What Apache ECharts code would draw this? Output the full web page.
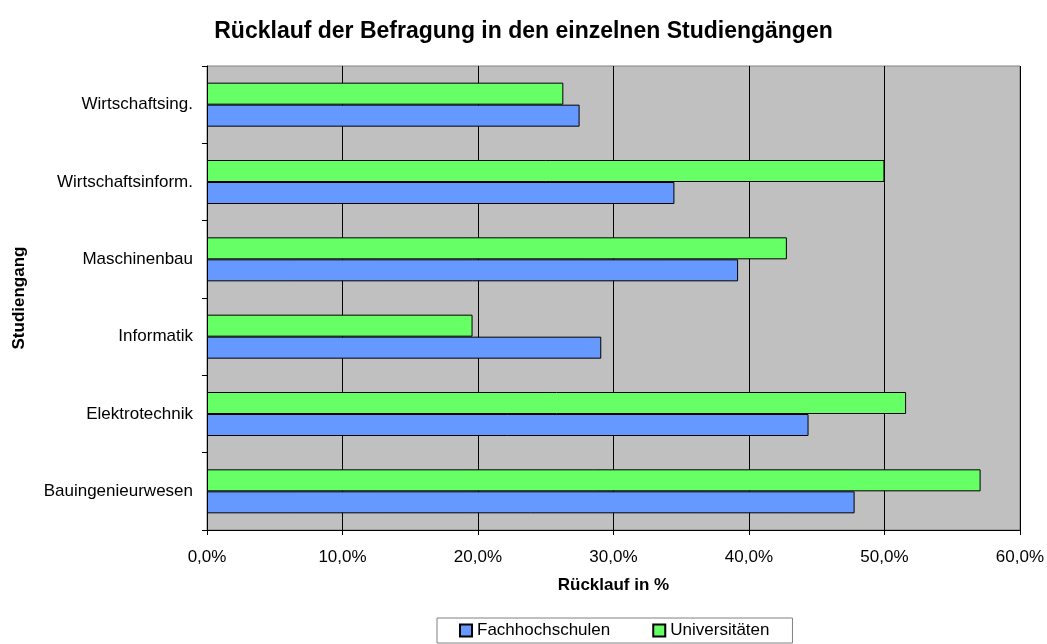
<!DOCTYPE html>
<html>
<head>
    <meta charset="utf-8">
    <script src="https://cdn.jsdelivr.net/npm/echarts@6/dist/echarts.min.js"></script>
    <title>Rücklauf</title>
    <style>
        html, body { margin: 0; padding: 0; background: #fff; }
        #chart { width: 1047px; height: 644px; }
    </style>
</head>
<body>
<div id="chart"></div>
<script>
    // Studiengänge, von unten nach oben
    var categories = ['Bauingenieurwesen', 'Elektrotechnik', 'Informatik', 'Maschinenbau', 'Wirtschaftsinform.', 'Wirtschaftsing.'];
    var fachhochschulen = [47.8, 44.4, 29.1, 39.2, 34.5, 27.5];
    var universitaeten = [57.1, 51.6, 19.6, 42.8, 50.0, 26.3];
    var xTicks = [0, 10, 20, 30, 40, 50, 60];

    var font = 'Arial, "Liberation Sans", sans-serif';

    function pct(v) {
        return v.toFixed(1).replace('.', ',') + '%';
    }

    var chart = echarts.init(document.getElementById('chart'));
    chart.setOption({
        animation: false,
        textStyle: { fontFamily: font },
        title: {
            text: 'Rücklauf der Befragung in den einzelnen Studiengängen',
            left: 'center',
            top: 15,
            textStyle: { fontSize: 23, fontWeight: 'bold', color: '#000', fontFamily: font }
        },
        legend: {
            bottom: 1,
            left: 437,
            padding: [4, 23, 4, 22],
            itemGap: 42,
            itemWidth: 12,
            itemHeight: 12,
            borderColor: '#808080',
            borderWidth: 1,
            icon: 'rect',
            textStyle: { fontSize: 17, color: '#000', fontFamily: font },
            data: ['Fachhochschulen', 'Universitäten']
        },
        grid: {
            left: 207,
            right: 27,
            top: 66,
            bottom: 114,
            show: true,
            backgroundColor: '#c0c0c0',
            borderColor: '#808080',
            borderWidth: 1
        },
        xAxis: {
            type: 'value',
            min: xTicks[0],
            max: xTicks[xTicks.length - 1],
            interval: 10,
            name: 'Rücklauf in %',
            nameLocation: 'middle',
            nameGap: 47,
            nameTextStyle: { fontSize: 17, fontWeight: 'bold', color: '#000' },
            axisLine: { show: true, lineStyle: { color: '#000' } },
            axisTick: { show: true, length: 5, lineStyle: { color: '#000' } },
            axisLabel: { fontSize: 17, color: '#000', margin: 19, formatter: pct },
            splitLine: { show: true, lineStyle: { color: '#000', width: 1 } }
        },
        yAxis: {
            type: 'category',
            data: categories,
            name: 'Studiengang',
            nameLocation: 'middle',
            nameRotate: 90,
            nameGap: 179,
            nameTextStyle: { fontSize: 17, fontWeight: 'bold', color: '#000' },
            axisLine: { show: true, lineStyle: { color: '#000' } },
            axisTick: { show: true, length: 5, lineStyle: { color: '#000' } },
            axisLabel: { fontSize: 17, color: '#000', margin: 14 },
            splitLine: { show: false }
        },
        series: [
            {
                name: 'Universitäten',
                type: 'bar',
                data: universitaeten,
                barWidth: 22,
                barGap: '0%',
                itemStyle: { color: '#66ff66', borderColor: '#000', borderWidth: 1 }
            },
            {
                name: 'Fachhochschulen',
                type: 'bar',
                data: fachhochschulen,
                barWidth: 22,
                barGap: '0%',
                itemStyle: { color: '#6699ff', borderColor: '#000', borderWidth: 1 }
            }
        ]
    });
</script>
</body>
</html>
